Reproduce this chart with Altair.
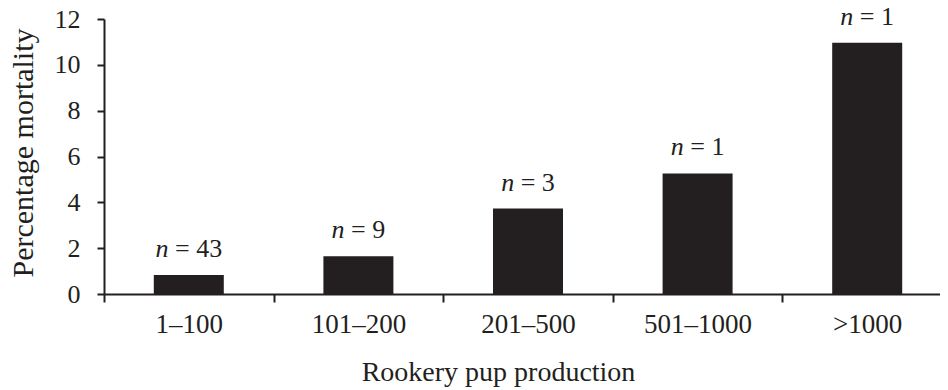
import altair as alt
import pandas as pd

categories = ["1–100", "101–200", "201–500", "501–1000", ">1000"]
mortality = [0.83, 1.65, 3.73, 5.26, 10.96]
sample_sizes = [43, 9, 3, 1, 1]

df = pd.DataFrame({"cat": categories, "mort": mortality, "n": sample_sizes})
df["rest"] = "= " + df["n"].astype(str)
df["digits"] = df["n"].astype(str).str.len()

FONT = "Liberation Serif"
INK = "#231f20"
FS_N = 26

x = alt.X(
    "cat:N",
    sort=categories,
    scale=alt.Scale(range=[0, 848], paddingInner=0, paddingOuter=0),
    axis=alt.Axis(
        title="Rookery pup production",
        labelAngle=0,
        tickBand="extent",
        ticks=True,
        tickSize=8,
        tickWidth=2,
        tickColor=INK,
        domainColor=INK,
        domainWidth=2,
        labelFont=FONT,
        labelFontSize=27,
        labelColor=INK,
        labelPadding=9,
        titleFont=FONT,
        titleFontSize=28,
        titleFontWeight="normal",
        titleColor=INK,
        titleX=394,
        titleY=86,
        titleBaseline="alphabetic",
        titleAlign="center",
    ),
)

y = alt.Y(
    "mort:Q",
    scale=alt.Scale(domain=[0, 12]),
    axis=alt.Axis(
        values=[0, 2, 4, 6, 8, 10, 12],
        grid=False,
        tickSize=7,
        tickWidth=2,
        tickColor=INK,
        domainColor=INK,
        domainWidth=2,
        labelFont=FONT,
        labelFontSize=26,
        labelColor=INK,
        labelPadding=17,
        title="Percentage mortality",
        titleFont=FONT,
        titleFontSize=30,
        titleFontWeight="normal",
        titleColor=INK,
        titleX=-72,
        titleY=133.5,
        titleAngle=270,
        titleBaseline="alphabetic",
        titleAlign="center",
    ),
)

base = alt.Chart(df)

bars = base.mark_bar(width=70, color=INK).encode(x=x, y=y)

W = f"((1.564 + 0.5*datum.digits)*{FS_N})"
n_italic = base.mark_text(
    font=FONT, fontSize=FS_N, fontStyle="italic", align="right",
    baseline="alphabetic", dy=-18, color=INK,
    dx=alt.expr(f"-{W}/2 + 0.5*{FS_N}"),
).encode(x=x, y=y, text=alt.value("n"))

n_rest = base.mark_text(
    font=FONT, fontSize=FS_N, align="left",
    baseline="alphabetic", dy=-18, color=INK,
    dx=alt.expr(f"-{W}/2 + 0.75*{FS_N}"),
).encode(x=x, y=y, text="rest:N")

chart = (
    alt.layer(bars, n_italic, n_rest)
    .properties(
        width=836,
        height=275,
        autosize=alt.AutoSizeParams(type="none"),
        padding={"left": 96, "top": 11, "right": 0, "bottom": 96},
    )
    .configure_view(stroke=None)
)

chart.save("out.html", embed_options={"renderer": "svg", "actions": False})
